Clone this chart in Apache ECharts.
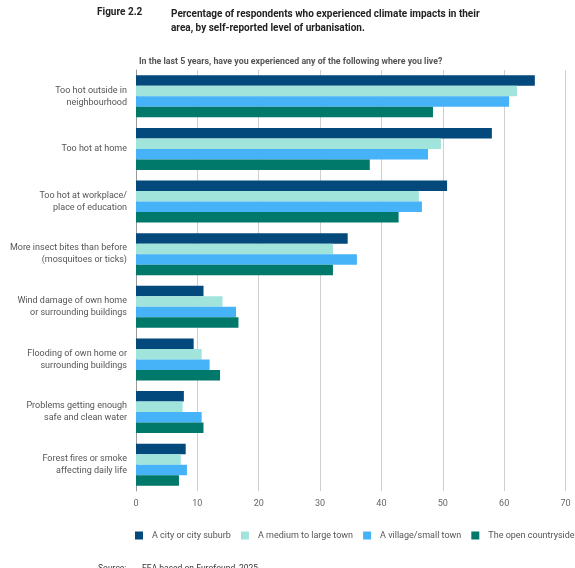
<!DOCTYPE html>
<html>
<head>
<meta charset="utf-8">
<script src="https://cdn.jsdelivr.net/npm/echarts@6/dist/echarts.min.js"></script>
<style>
  html, body { margin: 0; padding: 0; background: #fff; }
  #main { width: 575px; height: 568px; }
</style>
</head>
<body>
<div id="main"></div>
<script>
var categories = [
    'Too hot outside in\nneighbourhood',
    'Too hot at home',
    'Too hot at workplace/\nplace of education',
    'More insect bites than before\n(mosquitoes or ticks)',
    'Wind damage of own home\nor surrounding buildings',
    'Flooding of own home or\nsurrounding buildings',
    'Problems getting enough\nsafe and clean water',
    'Forest fires or smoke\naffecting daily life'
];

var seriesNames = ['A city or city suburb', 'A medium to large town', 'A village/small town', 'The open countryside'];

var cityData = [65.0, 58.0, 50.7, 34.5, 11.0, 9.4, 7.8, 8.1];
var townData = [62.1, 49.7, 46.1, 32.1, 14.1, 10.7, 7.6, 7.3];
var villageData = [60.8, 47.6, 46.6, 36.0, 16.3, 12.0, 10.7, 8.3];
var countryData = [48.4, 38.1, 42.8, 32.1, 16.7, 13.7, 11.0, 7.0];

var xTicks = [0, 10, 20, 30, 40, 50, 60, 70];

var colors = ['#03497c', '#a0e4dc', '#46b2f7', '#00796b'];

var myChart = echarts.init(document.getElementById('main'));

var allData = [cityData, townData, villageData, countryData];
var series = [];
for (var i = 0; i < seriesNames.length; i++) {
    series.push({
        name: seriesNames[i],
        type: 'bar',
        data: allData[i],
        barGap: '0%',
        barCategoryGap: '20%',
        itemStyle: { color: colors[i] }
    });
}

var option = {
    textStyle: { fontFamily: 'Roboto' },
    color: colors,
    title: [
        {
            text: 'Figure 2.2',
            left: 92, top: 2,
            textStyle: { fontSize: 10, fontWeight: 'bold', color: '#222' }
        },
        {
            text: 'Percentage of respondents who experienced climate impacts in their\narea, by self-reported level of urbanisation.',
            left: 166, top: 2,
            textStyle: { fontSize: 10, fontWeight: 'bold', color: '#222', lineHeight: 14 }
        },
        {
            text: 'In the last 5 years, have you experienced any of the following where you live?',
            left: 134, top: 52,
            textStyle: { fontSize: 8.8, fontWeight: 'bold', color: '#555' }
        },
        {
            text: 'Source:',
            left: 93, top: 559,
            textStyle: { fontSize: 8.5, fontWeight: 'normal', color: '#333' }
        },
        {
            text: 'EEA based on Eurofound, 2025',
            left: 137, top: 559,
            textStyle: { fontSize: 8.5, fontWeight: 'normal', color: '#333' }
        }
    ],
    legend: {
        data: seriesNames,
        left: 130,
        top: 526,
        width: 520,
        icon: 'rect',
        itemWidth: 8,
        itemHeight: 8,
        itemGap: 10,
        textStyle: { fontSize: 9, color: '#555', padding: [0, 0, 0, 4] }
    },
    grid: {
        left: 136,
        right: 9.5,
        top: 70,
        bottom: 77,
        containLabel: false
    },
    xAxis: {
        type: 'value',
        min: xTicks[0],
        max: xTicks[xTicks.length - 1],
        interval: 10,
        axisLine: { show: false },
        axisTick: { show: false },
        axisLabel: { color: '#666', fontSize: 9, margin: 8 },
        splitLine: { lineStyle: { color: '#cfcfcf', width: 1 } }
    },
    yAxis: {
        type: 'category',
        data: categories,
        inverse: true,
        axisLine: { lineStyle: { color: '#999' } },
        axisTick: { show: false },
        axisLabel: { color: '#555', fontSize: 9, lineHeight: 12, margin: 9, align: 'right' }
    },
    series: series
};

myChart.setOption(option);
</script>
</body>
</html>
